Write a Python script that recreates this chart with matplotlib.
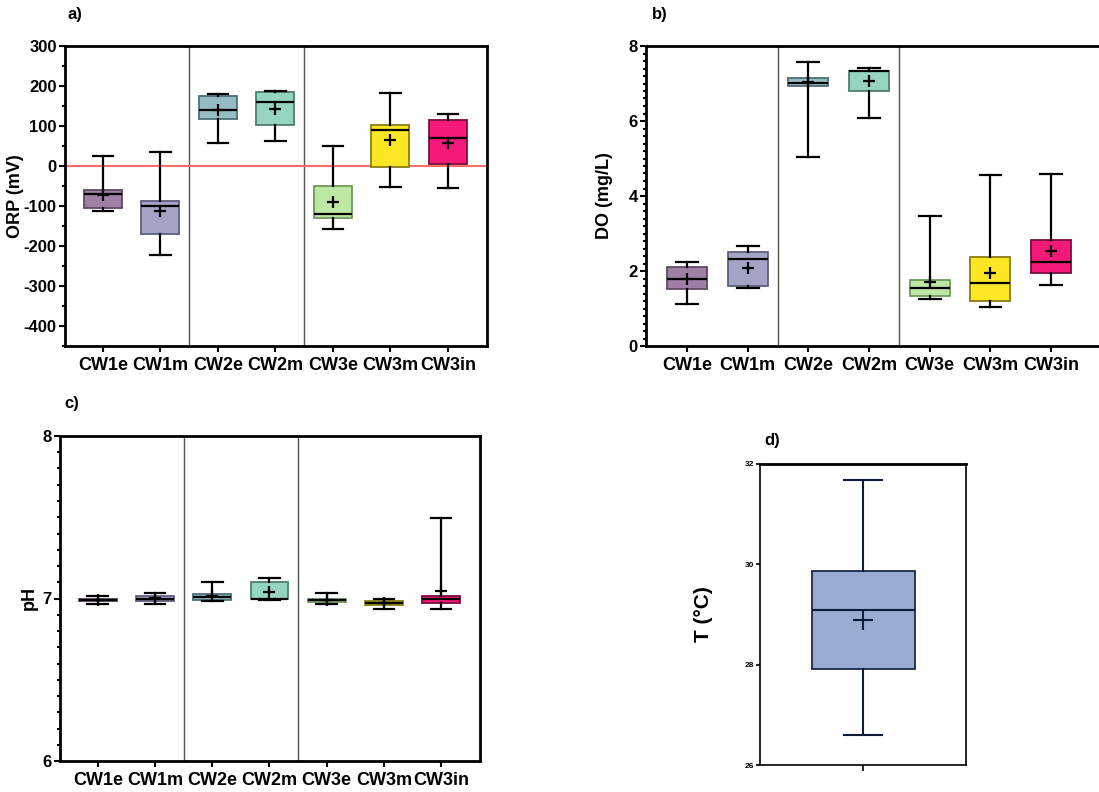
import matplotlib
matplotlib.use("Agg")
import matplotlib.pyplot as plt
from matplotlib.ticker import MultipleLocator

plt.rcParams['font.family'] = ['Liberation Sans', 'DejaVu Sans']
plt.rcParams['font.weight'] = 'bold'
plt.rcParams['axes.unicode_minus'] = False

categories = ["CW1e", "CW1m", "CW2e", "CW2m", "CW3e", "CW3m", "CW3in"]
fill_colors = ["#9f7fa6", "#a3a3c6", "#95bcc4", "#94d4c0", "#bce8a4", "#fde725", "#f5197a"]
edge_colors = ["#5e4a63", "#5f5f80", "#4f6f78", "#4e7e70", "#6f9a5a", "#8a7d10", "#7a0c3c"]

# ORP (mV): whislo, q1, med, q3, whishi, mean
orp_low = [-112, -222, 57, 62, -157, -52, -55]
orp_q1 = [-104, -169, 117, 103, -131, -3, 4]
orp_med = [-69, -100, 140, 160, -119, 89, 70]
orp_q3 = [-59, -87, 175, 186, -50, 102, 116]
orp_high = [25, 35, 180, 188, 50, 183, 130]
orp_mean = [-72, -113, 140, 143, -91, 65, 57]

# DO (mg/L)
do_low = [1.12, 1.55, 5.04, 6.07, 1.26, 1.05, 1.63]
do_q1 = [1.51, 1.60, 6.94, 6.79, 1.34, 1.20, 1.94]
do_med = [1.79, 2.33, 7.01, 7.33, 1.54, 1.69, 2.25]
do_q3 = [2.12, 2.50, 7.16, 7.34, 1.77, 2.38, 2.84]
do_high = [2.25, 2.66, 7.58, 7.42, 3.46, 4.56, 4.59]
do_mean = [1.79, 2.08, 7.03, 7.08, 1.71, 1.96, 2.54]

# pH
ph_low = [6.968, 6.965, 6.982, 6.988, 6.965, 6.934, 6.934]
ph_q1 = [6.982, 6.986, 6.990, 6.998, 6.980, 6.960, 6.975]
ph_med = [6.988, 7.000, 7.008, 7.000, 6.988, 6.975, 6.998]
ph_q3 = [6.995, 7.018, 7.025, 7.100, 6.994, 6.984, 7.014]
ph_high = [7.015, 7.033, 7.100, 7.125, 7.033, 7.000, 7.494]
ph_mean = [6.990, 7.006, 7.014, 7.040, 6.988, 6.970, 7.045]

# Temperature (°C)
t_low, t_q1, t_med, t_q3, t_high, t_mean = 26.59, 27.91, 29.09, 29.87, 31.69, 28.89

W, H = 1099, 792
fig = plt.figure(figsize=(W / 100, H / 100), dpi=100)


def px_axes(left, top, right, bottom):
    return fig.add_axes([left / W, 1 - bottom / H, (right - left) / W, (bottom - top) / H])


def make_stats(lo, q1, med, q3, hi, mean):
    return [dict(whislo=a, q1=b, med=c, q3=d, whishi=e, mean=f, fliers=[])
            for a, b, c, d, e, f in zip(lo, q1, med, q3, hi, mean)]


def draw_panel(ax, stats, ylim, major, minor, ylabel, xlim, label_x, tick_fs=12):
    pos = list(range(len(stats)))
    bp = ax.bxp(stats, positions=pos, widths=0.66, patch_artist=True, showmeans=True,
                showfliers=False,
                whiskerprops=dict(color="black", lw=1.6),
                capprops=dict(color="black", lw=1.6),
                medianprops=dict(color="black", lw=1.6),
                meanprops=dict(marker="+", markeredgecolor="black", markersize=8,
                               markeredgewidth=1.6))
    for i, b in enumerate(bp["boxes"]):
        b.set_facecolor(fill_colors[i])
        b.set_edgecolor(edge_colors[i])
        b.set_linewidth(1.3)
    for c in bp["caps"]:
        xd = c.get_xdata()
        m = (xd[0] + xd[1]) / 2
        c.set_xdata([m - 0.18, m + 0.18])
    for xs in (1.5, 3.5):
        ax.axvline(xs, color="#555555", lw=1.0, zorder=0)
    ax.set_xlim(*xlim)
    ax.set_ylim(*ylim)
    ax.yaxis.set_major_locator(MultipleLocator(major))
    ax.yaxis.set_minor_locator(MultipleLocator(minor))
    ax.set_xticks(pos)
    ax.set_xticklabels(categories, fontsize=13, fontweight="bold")
    ax.tick_params(axis="y", which="major", labelsize=tick_fs, length=4, width=1.5, pad=2)
    ax.tick_params(axis="y", which="minor", length=2.5, width=1.5)
    ax.tick_params(axis="x", length=4, width=1.5, pad=4)
    for lab in ax.get_yticklabels():
        lab.set_fontweight("bold")
    for s in ax.spines.values():
        s.set_linewidth(2)
    ax.set_ylabel(ylabel, fontsize=13, fontweight="bold")
    ax.yaxis.set_label_coords(label_x, 0.5)


# Panel a
ax_a = px_axes(65, 46, 487, 346)
draw_panel(ax_a, make_stats(orp_low, orp_q1, orp_med, orp_q3, orp_high, orp_mean),
           (-450, 300), 100, 50, "ORP (mV)", (-0.66, 6.68), (24 - 65) / 422)
ax_a.axhline(0, color="#ff6b6b", lw=1.5, zorder=1)
ax_a.set_yticks([300, 200, 100, 0, -100, -200, -300, -400])

# Panel b
ax_b = px_axes(646, 46, 1110, 346)
draw_panel(ax_b, make_stats(do_low, do_q1, do_med, do_q3, do_high, do_mean),
           (0, 8), 2, 0.2, "DO (mg/L)", (-0.675, 6.97), (613 - 646) / 464)

# Panel c
ax_c = px_axes(60, 436, 480, 761)
draw_panel(ax_c, make_stats(ph_low, ph_q1, ph_med, ph_q3, ph_high, ph_mean),
           (6, 8), 1, 0.1, "pH", (-0.66, 6.68), (38 - 60) / 420)

# Panel d
ax_d = px_axes(760, 464, 966, 765)
bp = ax_d.bxp([dict(whislo=t_low, q1=t_q1, med=t_med, q3=t_q3, whishi=t_high,
                    mean=t_mean, fliers=[])],
              positions=[0], widths=1.0, patch_artist=True, showmeans=True,
              showfliers=False,
              whiskerprops=dict(color="#0d1b3a", lw=1.5),
              capprops=dict(color="#0d1b3a", lw=1.5),
              medianprops=dict(color="#0d1b3a", lw=1.5),
              meanprops=dict(marker="+", markeredgecolor="#0d1b3a", markersize=15,
                             markeredgewidth=1.5))
bp["boxes"][0].set_facecolor("#98acd2")
bp["boxes"][0].set_edgecolor("#1a2a4a")
bp["boxes"][0].set_linewidth(1.3)
for c in bp["caps"]:
    c.set_xdata([-0.18, 0.18])
ax_d.set_xlim(-1, 1)
ax_d.set_ylim(26, 32)
ax_d.set_yticks([26, 28, 30, 32])
ax_d.set_xticks([0])
ax_d.set_xticklabels([""])
ax_d.tick_params(axis="y", labelsize=6, length=3, width=1.2, pad=1)
ax_d.tick_params(axis="x", length=4, width=1.2)
for lab in ax_d.get_yticklabels():
    lab.set_fontweight("bold")
for name, s in ax_d.spines.items():
    s.set_linewidth(1.2)
ax_d.spines["top"].set_linewidth(2)
ax_d.set_ylabel("T (°C)", fontsize=15, fontweight="bold")
ax_d.yaxis.set_label_coords((713 - 760) / 206, 0.5)

# Panel letters
fig.text(75 / W, 1 - 15 / H, "a)", fontsize=12, fontweight="bold", ha="center", va="center")
fig.text(660 / W, 1 - 15 / H, "b)", fontsize=12, fontweight="bold", ha="center", va="center")
fig.text(72 / W, 1 - 404 / H, "c)", fontsize=12, fontweight="bold", ha="center", va="center")
fig.text(772 / W, 1 - 440 / H, "d)", fontsize=12, fontweight="bold", ha="center", va="center")

fig.savefig("out.png", dpi=100)
